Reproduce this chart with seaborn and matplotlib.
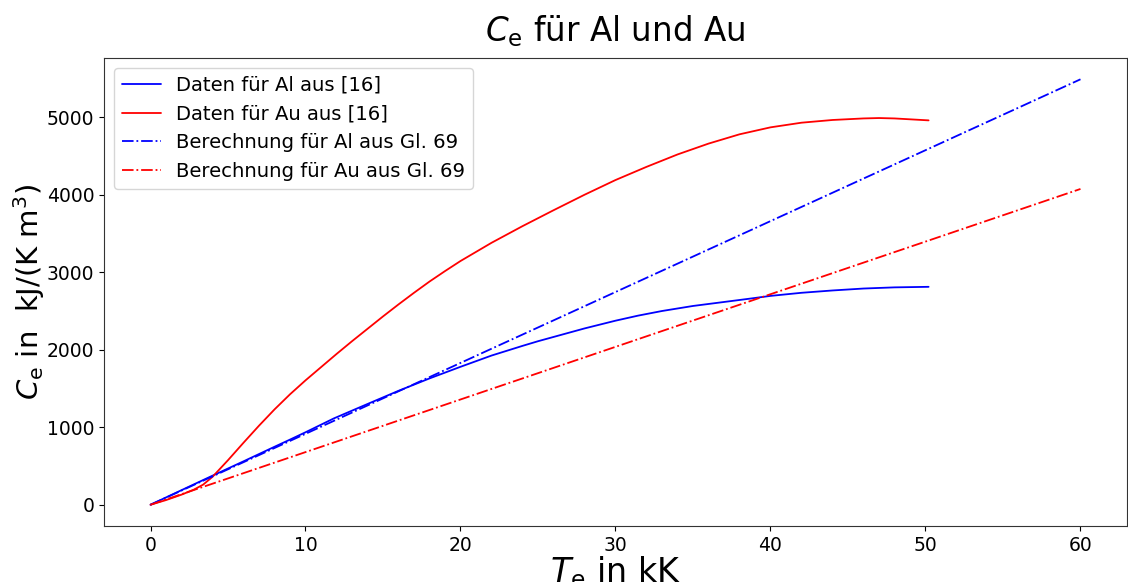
import matplotlib
matplotlib.use("Agg")
import matplotlib.pyplot as plt
import seaborn as sns

# --- data (T_e in kK, C_e in kJ/(K m^3)) ---
al_T = [0, 2, 4, 6, 8, 8.94, 10, 11.83, 14, 16, 18, 20, 22, 24, 25, 26, 28, 30,
        31.45, 33, 35, 38.5, 40, 42, 44, 46, 48, 50.2]
al_C = [0, 188, 375, 560, 748, 835, 935, 1114, 1300, 1470, 1630, 1780, 1925, 2050,
        2110, 2165, 2275, 2375, 2440, 2500, 2565, 2655, 2695, 2735, 2765, 2790,
        2805, 2812]

au_T = [0, 1, 2, 2.8, 3.4, 4, 5, 6, 7, 8, 9, 10, 11, 12, 13, 14, 15, 16, 17, 18,
        19, 20, 22, 24, 26, 28, 30, 32, 34, 36, 38, 40, 42, 44, 46, 47, 48, 50.2]
au_C = [0, 60, 130, 195, 260, 360, 575, 800, 1020, 1230, 1425, 1605, 1775, 1945,
        2110, 2270, 2430, 2585, 2735, 2880, 3015, 3145, 3380, 3595, 3800, 4000,
        4190, 4360, 4520, 4660, 4780, 4870, 4930, 4965, 4985, 4990, 4985, 4960]

calc_T = [0, 60]
calc_al_C = [0, 5490]
calc_au_C = [0, 4075]

labels = ["Daten für Al aus [16]", "Daten für Au aus [16]",
          "Berechnung für Al aus Gl. 69", "Berechnung für Au aus Gl. 69"]

sns.set_style("ticks")
plt.rcParams["font.family"] = ["DejaVu Sans"]
plt.rcParams["mathtext.fontset"] = "dejavusans"
plt.rcParams["text.color"] = "black"
plt.rcParams["axes.labelcolor"] = "black"

fig = plt.figure(figsize=(11.28, 5.82), dpi=100)
ax = fig.add_axes([0.0922, 0.0962, 0.9069, 0.8041])

sns.lineplot(x=al_T, y=al_C, ax=ax, color="blue", lw=1.3, label=labels[0],
             estimator=None, sort=False)
sns.lineplot(x=au_T, y=au_C, ax=ax, color="red", lw=1.3, label=labels[1],
             estimator=None, sort=False)
sns.lineplot(x=calc_T, y=calc_al_C, ax=ax, color="blue", lw=1.3, linestyle="-.",
             label=labels[2], estimator=None, sort=False)
sns.lineplot(x=calc_T, y=calc_au_C, ax=ax, color="red", lw=1.3, linestyle="-.",
             label=labels[3], estimator=None, sort=False)

ax.set_xticks([0, 10, 20, 30, 40, 50, 60])
ax.set_yticks([0, 1000, 2000, 3000, 4000, 5000])
ax.tick_params(labelsize=13.5, colors="black", labelcolor="black")
for s in ax.spines.values():
    s.set_visible(True)
    s.set_color("#333333")
    s.set_linewidth(0.8)

ax.set_title(r"$C_\mathrm{e}$ für Al und Au", fontsize=23.5, pad=12, color="black")
ax.set_xlabel(r"$T_\mathrm{e}$ in kK", fontsize=24, labelpad=0, color="black")
ax.set_ylabel(r"$C_\mathrm{e}$ in  kJ/(K m$^3$)", fontsize=21, labelpad=0, color="black")
leg = ax.legend(loc="upper left", fontsize=14.1, frameon=True)
for t in leg.get_texts():
    t.set_color("black")

fig.savefig("out.png", dpi=100)
